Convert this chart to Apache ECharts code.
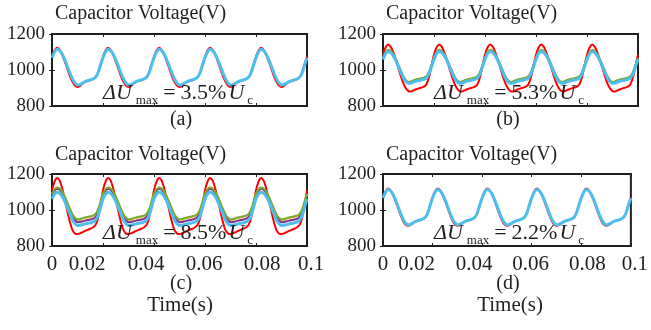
<!DOCTYPE html>
<html>
<head>
<meta charset="utf-8">
<script src="https://cdn.jsdelivr.net/npm/echarts@6/dist/echarts.min.js"></script>
<style>html,body{margin:0;padding:0;background:#fff;}#c{width:651px;height:330px;}</style>
</head>
<body>
<div id="c"></div>
<script>
// ---- data ----
const TIME_MS = [0,1,2,3,4,5,6,7,8,9,10,11,12,13,14,15,16,17,18,19,20,21,22,23,24,25,26,27,28,29,30,31,32,33,34,35,36,37,38,39,40,41,42,43,44,45,46,47,48,49,50,51,52,53,54,55,56,57,58,59,60,61,62,63,64,65,66,67,68,69,70,71,72,73,74,75,76,77,78,79,80,81,82,83,84,85,86,87,88,89,90,91,92,93,94,95,96,97,98,99,100];
const X_TICK_LABELS = ['0','0.02','0.04','0.06','0.08','0.1'];
const Y_TICK_LABELS = ['800','1000','1200'];
const PANEL_LABELS = ['(a)','(b)','(c)','(d)'];
const PANEL_TITLE = 'Capacitor Voltage(V)';
const X_TITLE = 'Time(s)';
const DELTA_PCT = ['3.5','5.3','8.5','2.2'];

const A_RED = [1075,1108,
1124,1112,1084,1048,1008,968,936,914,906,912,925,934,939,943,948,957,984,1030,1075,1108,
1124,1112,1084,1048,1008,968,936,914,906,912,925,934,939,943,948,957,984,1030,1075,1108,
1124,1112,1084,1048,1008,968,936,914,906,912,925,934,939,943,948,957,984,1030,1075,1108,
1124,1112,1084,1048,1008,968,936,914,906,912,925,934,939,943,948,957,984,1030,1075,1108,
1124,1112,1084,1048,1008,968,936,914,906,912,925,934,939,943,948,957,984,1030,1075];
const A_CYAN = [1068,1100,
1115,1108,1088,1058,1022,985,952,928,917,919,928,936,941,945,950,958,982,1025,1068,1100,
1115,1108,1088,1058,1022,985,952,928,917,919,928,936,941,945,950,958,982,1025,1068,1100,
1115,1108,1088,1058,1022,985,952,928,917,919,928,936,941,945,950,958,982,1025,1068,1100,
1115,1108,1088,1058,1022,985,952,928,917,919,928,936,941,945,950,958,982,1025,1068,1100,
1115,1108,1088,1058,1022,985,952,928,917,919,928,936,941,945,950,958,982,1025,1068];

const B_RED = [1085,1125,
1142,1130,1100,1058,1012,966,926,898,883,881,887,893,898,902,908,920,958,1022,1085,1125,
1142,1130,1100,1058,1012,966,926,898,883,881,887,893,898,902,908,920,958,1022,1085,1125,
1142,1130,1100,1058,1012,966,926,898,883,881,887,893,898,902,908,920,958,1022,1085,1125,
1142,1130,1100,1058,1012,966,926,898,883,881,887,893,898,902,908,920,958,1022,1085,1125,
1142,1130,1100,1058,1012,966,926,898,883,881,887,893,898,902,908,920,958,1022,1085];
const B_GREEN = [1068,1099,
1112,1106,1089,1062,1029,996,965,944,935,937,943,948,951,954,958,965,987,1027,1068,1099,
1112,1106,1089,1062,1029,996,965,944,935,937,943,948,951,954,958,965,987,1027,1068,1099,
1112,1106,1089,1062,1029,996,965,944,935,937,943,948,951,954,958,965,987,1027,1068,1099,
1112,1106,1089,1062,1029,996,965,944,935,937,943,948,951,954,958,965,987,1027,1068,1099,
1112,1106,1089,1062,1029,996,965,944,935,937,943,948,951,954,958,965,987,1027,1068];
const B_PURPLE = [1065,1096,
1109,1103,1086,1059,1026,993,962,941,932,934,940,945,948,951,955,962,984,1024,1065,1096,
1109,1103,1086,1059,1026,993,962,941,932,934,940,945,948,951,955,962,984,1024,1065,1096,
1109,1103,1086,1059,1026,993,962,941,932,934,940,945,948,951,955,962,984,1024,1065,1096,
1109,1103,1086,1059,1026,993,962,941,932,934,940,945,948,951,955,962,984,1024,1065,1096,
1109,1103,1086,1059,1026,993,962,941,932,934,940,945,948,951,955,962,984,1024,1065];
const B_CYAN = [1058,1090,
1103,1097,1080,1053,1020,987,956,935,926,927,933,938,941,944,948,955,977,1017,1058,1090,
1103,1097,1080,1053,1020,987,956,935,926,927,933,938,941,944,948,955,977,1017,1058,1090,
1103,1097,1080,1053,1020,987,956,935,926,927,933,938,941,944,948,955,977,1017,1058,1090,
1103,1097,1080,1053,1020,987,956,935,926,927,933,938,941,944,948,955,977,1017,1058,1090,
1103,1097,1080,1053,1020,987,956,935,926,927,933,938,941,944,948,955,977,1017,1058];

const C_RED = [1110,1158,
1178,1163,1120,1060,995,935,890,870,866,870,877,884,890,896,903,915,952,1025,1110,1158,
1178,1163,1120,1060,995,935,890,870,866,870,877,884,890,896,903,915,952,1025,1110,1158,
1178,1163,1120,1060,995,935,890,870,866,870,877,884,890,896,903,915,952,1025,1110,1158,
1178,1163,1120,1060,995,935,890,870,866,870,877,884,890,896,903,915,952,1025,1110,1158,
1178,1163,1120,1060,995,935,890,870,866,870,877,884,890,896,903,915,952,1025,1110];
const C_GREEN = [1090,1115,
1125,1119,1102,1075,1042,1008,977,957,948,950,955,959,962,965,969,977,1000,1045,1090,1115,
1125,1119,1102,1075,1042,1008,977,957,948,950,955,959,962,965,969,977,1000,1045,1090,1115,
1125,1119,1102,1075,1042,1008,977,957,948,950,955,959,962,965,969,977,1000,1045,1090,1115,
1125,1119,1102,1075,1042,1008,977,957,948,950,955,959,962,965,969,977,1000,1045,1090,1115,
1125,1119,1102,1075,1042,1008,977,957,948,950,955,959,962,965,969,977,1000,1045,1090];
const C_YELLOW = [1087,1112,
1122,1116,1099,1072,1039,1005,974,954,945,947,952,956,959,962,966,974,997,1042,1087,1112,
1122,1116,1099,1072,1039,1005,974,954,945,947,952,956,959,962,966,974,997,1042,1087,1112,
1122,1116,1099,1072,1039,1005,974,954,945,947,952,956,959,962,966,974,997,1042,1087,1112,
1122,1116,1099,1072,1039,1005,974,954,945,947,952,956,959,962,966,974,997,1042,1087,1112,
1122,1116,1099,1072,1039,1005,974,954,945,947,952,956,959,962,966,974,997,1042,1087];
const C_PURPLE = [1078,1106,
1118,1112,1095,1067,1033,998,965,943,932,933,937,941,944,947,951,960,984,1030,1078,1106,
1118,1112,1095,1067,1033,998,965,943,932,933,937,941,944,947,951,960,984,1030,1078,1106,
1118,1112,1095,1067,1033,998,965,943,932,933,937,941,944,947,951,960,984,1030,1078,1106,
1118,1112,1095,1067,1033,998,965,943,932,933,937,941,944,947,951,960,984,1030,1078,1106,
1118,1112,1095,1067,1033,998,965,943,932,933,937,941,944,947,951,960,984,1030,1078];
const C_CYAN = [1062,1088,
1098,1092,1075,1048,1014,979,946,924,914,915,919,923,926,929,933,942,966,1012,1062,1088,
1098,1092,1075,1048,1014,979,946,924,914,915,919,923,926,929,933,942,966,1012,1062,1088,
1098,1092,1075,1048,1014,979,946,924,914,915,919,923,926,929,933,942,966,1012,1062,1088,
1098,1092,1075,1048,1014,979,946,924,914,915,919,923,926,929,933,942,966,1012,1062,1088,
1098,1092,1075,1048,1014,979,946,924,914,915,919,923,926,929,933,942,966,1012,1062];

const D_RED = [1070,1103,
1119,1110,1086,1052,1014,975,942,920,913,916,926,935,940,944,949,957,983,1027,1070,1103,
1119,1110,1086,1052,1014,975,942,920,913,916,926,935,940,944,949,957,983,1027,1070,1103,
1119,1110,1086,1052,1014,975,942,920,913,916,926,935,940,944,949,957,983,1027,1070,1103,
1119,1110,1086,1052,1014,975,942,920,913,916,926,935,940,944,949,957,983,1027,1070,1103,
1119,1110,1086,1052,1014,975,942,920,913,916,926,935,940,944,949,957,983,1027,1070];
const D_CYAN = [1067,1099,
1114,1107,1088,1058,1022,985,952,929,918,920,928,936,941,945,950,958,982,1025,1067,1099,
1114,1107,1088,1058,1022,985,952,929,918,920,928,936,941,945,950,958,982,1025,1067,1099,
1114,1107,1088,1058,1022,985,952,929,918,920,928,936,941,945,950,958,982,1025,1067,1099,
1114,1107,1088,1058,1022,985,952,929,918,920,928,936,941,945,950,958,982,1025,1067,1099,
1114,1107,1088,1058,1022,985,952,929,918,920,928,936,941,945,950,958,982,1025,1067];

// ---- styling ----
const FONT = "'Liberation Serif','Times New Roman',serif";
const INK = '#1f1f1f';
const COL = {red:'#ff0000', green:'#77ac30', yellow:'#edb120', purple:'#7e2f8e', cyan:'#4dbeee'};
const GRIDS = [
  {left:52, top:34, width:255, height:72},
  {left:383, top:34, width:255, height:72},
  {left:52, top:174, width:255, height:72},
  {left:383, top:174, width:254, height:72}
];
const X_LABEL_SHIFT = [0,-16,-8,-1,6,4];

const PANELS = [
  [['red',A_RED,2],['cyan',A_CYAN,3]],
  [['red',B_RED,2],['purple',B_PURPLE,2],['green',B_GREEN,2],['cyan',B_CYAN,3]],
  [['red',C_RED,2],['yellow',C_YELLOW,2],['purple',C_PURPLE,2],['green',C_GREEN,2],['cyan',C_CYAN,3]],
  [['red',D_RED,2],['cyan',D_CYAN,3]]
];

const xRich = {};
X_LABEL_SHIFT.forEach((s,i)=>{
  xRich['r'+i] = {fontFamily:FONT, fontSize:21, color:INK,
    padding:[0, s<0 ? -2*s : 0, 0, s>0 ? 2*s : 0]};
});

const xAxes = [], yAxes = [], series = [];
const tick = {show:true, inside:true, length:3, lineStyle:{color:INK, width:1}};
GRIDS.forEach((g,gi)=>{
  ['bottom','top'].forEach(pos=>{
    xAxes.push({gridIndex:gi, type:'value', position:pos, min:0, max:0.1, interval:0.02,
      axisLine:{show:false}, axisTick:tick, splitLine:{show:false},
      axisLabel:{show: pos==='bottom' && gi>=2, margin:8, rich:xRich,
        formatter:(v)=>{const i=Math.round(v/0.02); return '{r'+i+'|'+X_TICK_LABELS[i]+'}';}}
    });
  });
  ['left','right'].forEach(pos=>{
    yAxes.push({gridIndex:gi, type:'value', position:pos, min:800, max:1200, interval:200,
      axisLine:{show:false}, axisTick:tick, splitLine:{show:false},
      axisLabel:{show: pos==='left', margin:7, fontFamily:FONT, fontSize:19, color:INK,
        formatter:(v)=>Y_TICK_LABELS[Math.round((v-800)/200)]}
    });
  });
  PANELS[gi].forEach(([c,arr,w])=>{
    series.push({type:'line', xAxisIndex:gi*2, yAxisIndex:gi*2, showSymbol:false, symbol:'none',
      smooth:0.25, data: arr.map((v,k)=>[TIME_MS[k]/1000, v]),
      lineStyle:{color:COL[c], width:w}, itemStyle:{color:COL[c]}, z:2});
  });
});

const graphics = [];
function txt(text, x, y, size, align){
  graphics.push({type:'text', z:100, style:{text, x, y, fill:INK, font: size+'px '+FONT,
    textAlign:align, align:align, textVerticalAlign:'middle', verticalAlign:'middle'}});
}
GRIDS.forEach((g,gi)=>{
  txt(PANEL_TITLE, g.left+3, gi<2 ? 13.5 : 154.5, 20, 'left');
  txt(PANEL_LABELS[gi], gi%2===0 ? 181 : 508, gi<2 ? 120 : 284, 20, 'center');
  graphics.push({type:'text', z:100, style:{
    text:'{i|\u0394U}{s|max}{e|=}{n|'+DELTA_PCT[gi]+'%}{u|U}{c|c}',
    x: g.left+51, y: g.top+59, textAlign:'left', align:'left',
    textVerticalAlign:'middle', verticalAlign:'middle',
    rich:{
      i:{fontFamily:FONT, fontStyle:'italic', fontSize:22, lineHeight:28, fill:INK},
      u:{fontFamily:FONT, fontStyle:'italic', fontSize:22, lineHeight:28, fill:INK, padding:[0,0,0,2]},
      e:{fontFamily:FONT, fontSize:22, lineHeight:28, fill:INK, padding:[0,5,0,5]},
      n:{fontFamily:FONT, fontSize:22, lineHeight:28, fill:INK},
      s:{fontFamily:FONT, fontSize:13, lineHeight:13, verticalAlign:'bottom', fill:INK, padding:[0,0,0,4]},
      c:{fontFamily:FONT, fontSize:13, lineHeight:13, verticalAlign:'bottom', fill:INK, padding:[0,0,0,3]}
    }}});
});
txt(X_TITLE, 180, 305, 21, 'center');
txt(X_TITLE, 510, 305, 21, 'center');

const chart = echarts.init(document.getElementById('c'), null, {renderer:'canvas'});
chart.setOption({
  animation:false,
  backgroundColor:'#ffffff',
  grid: GRIDS.map(g=>Object.assign({show:true, borderColor:INK, borderWidth:2, backgroundColor:'transparent', containLabel:false}, g)),
  xAxis:xAxes, yAxis:yAxes, series, graphic:graphics
});
</script>
</body>
</html>
